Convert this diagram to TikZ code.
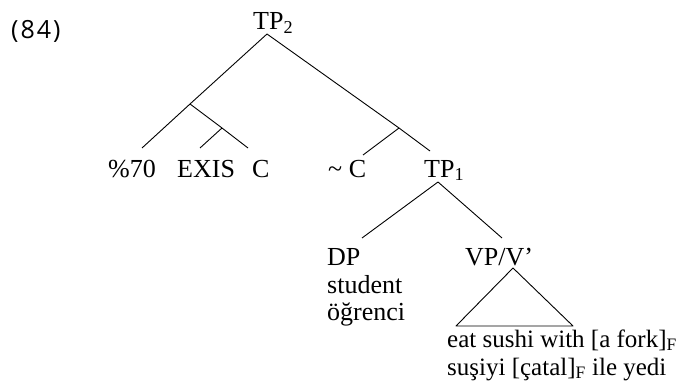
\documentclass[tikz,border=0pt]{standalone}
\usepackage{fontspec}
\setmainfont{Liberation Serif}
\newfontfamily\numfont[LetterSpace=8]{Open Sans}
\begin{document}
\begin{tikzpicture}[x=1pt,y=-1pt,
  lbl/.style={anchor=base west, inner sep=0pt, font=\fontsize{26}{28}\selectfont},
  branch/.style={line width=0.9pt, line join=round}]
\useasboundingbox (0,0) rectangle (684,390);
% labels
\node[anchor=base west, inner sep=0pt, font=\numfont\fontsize{25}{26}\selectfont] (ex) at (11,39) {(84)};
\node[lbl] (tp2) at (253,30) {TP\textsubscript{2}};
\node[lbl] (n70) at (108,177) {\%70};
\node[lbl] (exis) at (177,177) {EXIS};
\node[lbl] (c1) at (252,177) {C};
\node[lbl] (nc) at (328,177) {\textasciitilde{} C};
\node[lbl] (tp1) at (424,177) {TP\textsubscript{1}};
\node[lbl] (dp) at (327,265) {DP};
\node[lbl] (stu) at (327,293) {student};
\node[lbl] (ogr) at (327,320) {öğrenci};
\node[lbl] (vp) at (465,265) {VP/V’};
\node[lbl, font=\fontsize{25}{28}\selectfont] (eat) at (447,347) {eat sushi with [a fork]\textsubscript{F}};
\node[lbl, font=\fontsize{25}{28}\selectfont] (sus) at (447,375) {suşiyi [çatal]\textsubscript{F} ile yedi};
% branch points and line ends
\coordinate (tp2top) at (267,34);
\coordinate (b1) at (190,104);
\coordinate (b2) at (222,128);
\coordinate (b3) at (399,128);
\coordinate (e70) at (142,148);
\coordinate (eexis) at (200,148);
\coordinate (ec1) at (248,148);
\coordinate (enc) at (363,155);
\coordinate (etp1) at (430,151);
\coordinate (tp1top) at (438,182);
\coordinate (edp) at (362,238);
\coordinate (evp) at (502,238);
\coordinate (vptop) at (513,268);
\coordinate (tl) at (456,326);
\coordinate (tr) at (573,326);
% connectors
\draw[branch] (tp2top) -- (b1) -- (e70);
\draw[branch] (b1) -- (b2) -- (ec1);
\draw[branch] (b2) -- (eexis);
\draw[branch] (tp2top) -- (b3) -- (etp1);
\draw[branch] (b3) -- (enc);
\draw[branch] (tp1top) -- (edp);
\draw[branch] (tp1top) -- (evp);
\draw[branch] (vptop) -- (tl) -- (tr) -- cycle;
\end{tikzpicture}
\end{document}
